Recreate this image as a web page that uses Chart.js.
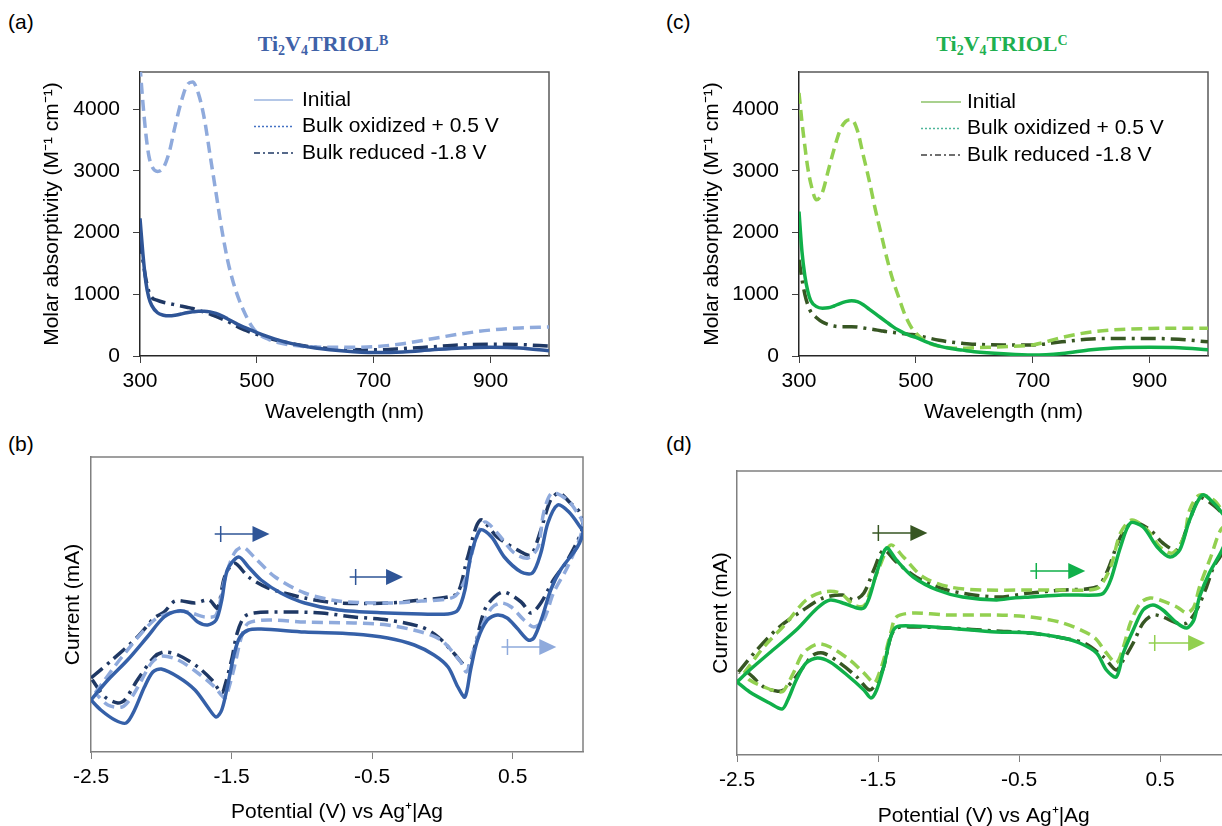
<!DOCTYPE html>
<html>
<head>
<meta charset="utf-8">
<script src="https://cdn.jsdelivr.net/npm/chart.js@4.4.1/dist/chart.umd.min.js"></script>
<style>
  body { margin: 0; width: 1222px; height: 826px; overflow: hidden; position: relative; background: #fff; font-family: "Liberation Sans", Arial, sans-serif; }
  canvas { position: absolute; }
  .letter { position: absolute; font-size: 21px; line-height: 1; color: #000; }
  .ttl { position: absolute; font-family: "Liberation Serif", "Times New Roman", serif; font-weight: bold; font-size: 22px; line-height: 1; white-space: nowrap; transform: translate(-50%, -50%); }
  .ttl sub { font-size: 14px; vertical-align: -4px; line-height: 0; }
  .ttl sup { font-size: 14px; vertical-align: 6px; line-height: 0; }
</style>
</head>
<body>
<div class="letter" style="left:8px;top:11px">(a)</div>
<div class="letter" style="left:8px;top:433px">(b)</div>
<div class="letter" style="left:666px;top:11px">(c)</div>
<div class="letter" style="left:666px;top:433px">(d)</div>
<div class="ttl" style="left:323px;top:44px;color:#3f62a8">Ti<sub>2</sub>V<sub>4</sub>TRIOL<sup>B</sup></div>
<div class="ttl" style="left:1002px;top:44px;color:#1fb050">Ti<sub>2</sub>V<sub>4</sub>TRIOL<sup>C</sup></div>

<canvas id="chartA" width="610" height="426" style="left:0;top:0"></canvas>
<canvas id="chartC" width="582" height="426" style="left:640px;top:0"></canvas>
<canvas id="chartB" width="610" height="400" style="left:0;top:426px"></canvas>
<canvas id="chartD" width="600" height="400" style="left:640px;top:426px"></canvas>

<script>
const fontFam = '"Liberation Sans", Arial, sans-serif';
Chart.defaults.font.family = fontFam;
Chart.defaults.font.size = 21;
Chart.defaults.color = "#000";

const seriesNames = ["Initial", "Bulk oxidized + 0.5 V", "Bulk reduced -1.8 V"];

// UV-vis spectra, wavelength grid (nm)
const wavelengths = [300, 305, 310, 315, 320, 330, 340, 350, 360, 370, 380, 390, 400, 410, 420, 430, 440, 450, 460, 470, 480, 490, 500, 520, 540, 560, 580, 600, 650, 700, 750, 800, 850, 900, 950, 1000];

const specB_initial = [2230, 1650, 1200, 950, 820, 700, 660, 650, 660, 680, 700, 715, 725, 725, 715, 690, 650, 600, 550, 500, 460, 420, 380, 310, 250, 200, 160, 130, 80, 55, 65, 100, 130, 140, 130, 85];
const specB_oxidized = [4700, 4100, 3600, 3250, 3080, 2990, 3050, 3300, 3720, 4100, 4380, 4440, 4250, 3850, 3250, 2650, 2050, 1550, 1180, 900, 680, 500, 380, 270, 210, 175, 155, 145, 140, 150, 200, 280, 360, 420, 455, 470];
const specB_reduced = [1900, 1550, 1250, 1050, 950, 900, 870, 850, 830, 810, 790, 770, 740, 710, 680, 640, 600, 560, 510, 460, 420, 380, 350, 290, 240, 200, 165, 140, 110, 100, 120, 150, 180, 190, 185, 160];

const specC_initial = [2340, 1700, 1300, 1050, 900, 800, 775, 780, 810, 850, 880, 895, 880, 830, 760, 690, 620, 550, 480, 420, 370, 330, 300, 220, 160, 120, 95, 70, 35, 15, 40, 100, 135, 140, 135, 100];
const specC_oxidized = [4260, 3800, 3400, 3050, 2800, 2530, 2650, 3000, 3350, 3650, 3800, 3830, 3650, 3250, 2850, 2400, 2000, 1600, 1250, 970, 700, 500, 370, 220, 160, 130, 125, 135, 150, 180, 300, 390, 430, 445, 450, 450];
const specC_reduced = [1560, 1250, 1000, 830, 720, 620, 550, 510, 485, 475, 475, 475, 470, 455, 440, 425, 410, 395, 385, 370, 360, 350, 340, 295, 255, 225, 205, 190, 180, 180, 230, 275, 285, 285, 270, 230];

const specTicksX = [300, 500, 700, 900];
const specTicksY = [0, 1000, 2000, 3000, 4000];

// cyclic voltammograms, [potential V, current a.u.]
const cvB_initial = [[-2.50,-0.98],[-2.38,-0.78],[-2.24,-0.58],[-2.10,-0.35],[-1.98,-0.15],[-1.88,-0.09],[-1.81,-0.11],[-1.74,-0.20],[-1.67,-0.23],[-1.61,-0.18],[-1.57,0.02],[-1.53,0.32],[-1.45,0.45],[-1.38,0.35],[-1.29,0.22],[-1.15,0.09],[-0.98,-0.01],[-0.74,-0.08],[-0.39,-0.11],[-0.15,-0.12],[0.04,-0.12],[0.11,-0.08],[0.16,0.12],[0.20,0.45],[0.27,0.72],[0.35,0.65],[0.44,0.45],[0.56,0.30],[0.64,0.29],[0.70,0.49],[0.75,0.79],[0.82,0.97],[0.90,0.90],[0.98,0.75],[1.00,0.70],
  [0.96,0.55],[0.84,0.32],[0.77,0.12],[0.71,-0.15],[0.65,-0.36],[0.61,-0.38],[0.53,-0.26],[0.46,-0.16],[0.39,-0.13],[0.32,-0.18],[0.25,-0.38],[0.20,-0.68],[0.16,-0.95],[0.11,-0.85],[0.04,-0.65],[-0.06,-0.53],[-0.20,-0.43],[-0.39,-0.36],[-0.63,-0.32],[-0.98,-0.30],[-1.29,-0.27],[-1.38,-0.28],[-1.44,-0.35],[-1.48,-0.51],[-1.53,-0.85],[-1.57,-1.08],[-1.61,-1.15],[-1.67,-1.05],[-1.76,-0.88],[-1.88,-0.75],[-2.00,-0.67],[-2.06,-0.70],[-2.12,-0.85],[-2.19,-1.08],[-2.25,-1.21],[-2.33,-1.18],[-2.43,-1.08],[-2.50,-0.98]];
const cvB_oxidized = [[-2.47,-0.91],[-2.28,-0.55],[-2.05,-0.18],[-1.91,-0.10],[-1.81,-0.10],[-1.69,-0.15],[-1.61,-0.13],[-1.55,0.22],[-1.48,0.49],[-1.42,0.55],[-1.34,0.45],[-1.19,0.25],[-0.98,0.09],[-0.74,0.01],[-0.39,-0.01],[-0.15,0.01],[0.08,0.05],[0.16,0.22],[0.23,0.59],[0.30,0.80],[0.39,0.69],[0.51,0.49],[0.61,0.44],[0.68,0.55],[0.72,0.89],[0.78,1.09],[0.89,1.02],[0.96,0.89],[1.00,0.79],
  [0.98,0.65],[0.89,0.35],[0.79,0.09],[0.72,-0.18],[0.65,-0.25],[0.58,-0.18],[0.49,-0.05],[0.42,-0.01],[0.35,-0.06],[0.27,-0.28],[0.20,-0.58],[0.17,-0.70],[0.13,-0.60],[-0.01,-0.38],[-0.15,-0.30],[-0.39,-0.23],[-0.63,-0.21],[-0.98,-0.20],[-1.22,-0.18],[-1.38,-0.21],[-1.43,-0.35],[-1.48,-0.65],[-1.53,-0.91],[-1.55,-0.96],[-1.62,-0.85],[-1.74,-0.71],[-1.88,-0.58],[-2.00,-0.54],[-2.07,-0.61],[-2.14,-0.78],[-2.21,-0.95],[-2.28,-1.05],[-2.38,-1.03],[-2.47,-0.91]];
const cvB_reduced = [[-2.50,-0.76],[-2.35,-0.58],[-2.17,-0.35],[-2.05,-0.16],[-1.98,-0.10],[-1.90,0.01],[-1.76,-0.01],[-1.66,0.02],[-1.60,-0.06],[-1.55,0.25],[-1.48,0.39],[-1.38,0.25],[-1.24,0.14],[-0.98,0.04],[-0.74,-0.01],[-0.39,-0.01],[-0.15,0.02],[0.04,0.05],[0.11,0.09],[0.18,0.45],[0.27,0.82],[0.39,0.65],[0.56,0.50],[0.63,0.47],[0.70,0.72],[0.77,1.02],[0.83,1.09],[0.91,0.99],[0.98,0.89],
  [1.00,0.75],[0.89,0.42],[0.79,0.22],[0.70,-0.01],[0.63,-0.11],[0.56,0.00],[0.44,0.10],[0.37,0.05],[0.30,-0.08],[0.23,-0.45],[0.18,-0.65],[0.08,-0.51],[-0.03,-0.35],[-0.15,-0.25],[-0.39,-0.18],[-0.63,-0.15],[-0.86,-0.11],[-1.10,-0.10],[-1.34,-0.11],[-1.41,-0.15],[-1.46,-0.31],[-1.50,-0.58],[-1.55,-0.85],[-1.57,-0.91],[-1.64,-0.78],[-1.74,-0.65],[-1.88,-0.53],[-1.98,-0.50],[-2.05,-0.55],[-2.17,-0.78],[-2.26,-0.98],[-2.31,-1.01],[-2.40,-0.95],[-2.50,-0.76]];

const cvD_initial = [[-2.50,-0.77],[-2.41,-0.65],[-2.27,-0.48],[-2.08,-0.25],[-1.93,-0.03],[-1.84,0.05],[-1.75,0.02],[-1.65,-0.03],[-1.60,-0.03],[-1.56,0.08],[-1.51,0.32],[-1.44,0.57],[-1.37,0.45],[-1.25,0.28],[-1.08,0.15],[-0.90,0.08],[-0.66,0.05],[-0.54,0.07],[-0.42,0.08],[-0.19,0.10],[0.05,0.10],[0.10,0.12],[0.15,0.25],[0.22,0.58],[0.29,0.82],[0.38,0.78],[0.48,0.58],[0.57,0.48],[0.64,0.55],[0.71,0.85],[0.80,1.10],[0.88,1.02],[0.94,0.92],[1.00,0.78],
  [0.94,0.55],[0.85,0.32],[0.78,0.08],[0.74,-0.15],[0.69,-0.23],[0.62,-0.18],[0.52,-0.05],[0.45,0.00],[0.38,-0.05],[0.31,-0.25],[0.24,-0.48],[0.19,-0.72],[0.12,-0.65],[0.05,-0.48],[-0.07,-0.38],[-0.19,-0.33],[-0.42,-0.28],[-0.66,-0.27],[-1.01,-0.23],[-1.25,-0.21],[-1.37,-0.22],[-1.41,-0.32],[-1.46,-0.62],[-1.51,-0.85],[-1.55,-0.93],[-1.60,-0.85],[-1.72,-0.70],[-1.84,-0.57],[-1.93,-0.53],[-2.01,-0.58],[-2.08,-0.75],[-2.14,-0.95],[-2.18,-1.04],[-2.27,-0.98],[-2.41,-0.87],[-2.50,-0.77]];
const cvD_oxidized = [[-2.45,-0.68],[-2.31,-0.42],[-2.15,-0.18],[-2.01,0.05],[-1.89,0.13],[-1.77,0.12],[-1.67,0.00],[-1.60,-0.01],[-1.56,0.12],[-1.49,0.38],[-1.41,0.60],[-1.32,0.48],[-1.18,0.28],[-0.99,0.18],[-0.75,0.15],[-0.42,0.15],[-0.19,0.15],[0.00,0.15],[0.07,0.18],[0.15,0.38],[0.22,0.72],[0.30,0.85],[0.41,0.75],[0.50,0.58],[0.59,0.52],[0.67,0.68],[0.71,0.95],[0.78,1.10],[0.88,1.05],[0.94,0.95],[1.00,0.85],
  [0.93,0.75],[0.86,0.48],[0.78,0.18],[0.74,-0.02],[0.69,-0.08],[0.62,-0.02],[0.50,0.05],[0.43,0.07],[0.36,0.02],[0.29,-0.18],[0.24,-0.42],[0.19,-0.58],[0.12,-0.48],[0.03,-0.32],[-0.19,-0.18],[-0.42,-0.12],[-0.66,-0.10],[-1.01,-0.10],[-1.25,-0.08],[-1.37,-0.12],[-1.41,-0.28],[-1.46,-0.55],[-1.51,-0.75],[-1.53,-0.78],[-1.60,-0.68],[-1.70,-0.55],[-1.84,-0.42],[-1.93,-0.39],[-2.03,-0.48],[-2.10,-0.68],[-2.17,-0.86],[-2.20,-0.87],[-2.29,-0.83],[-2.41,-0.75],[-2.45,-0.68]];
const cvD_reduced = [[-2.49,-0.67],[-2.36,-0.45],[-2.20,-0.22],[-2.03,-0.05],[-1.89,0.07],[-1.75,0.10],[-1.67,0.05],[-1.60,0.12],[-1.53,0.35],[-1.46,0.55],[-1.37,0.43],[-1.23,0.28],[-1.01,0.15],[-0.66,0.08],[-0.42,0.12],[-0.19,0.15],[0.05,0.18],[0.12,0.32],[0.22,0.68],[0.31,0.83],[0.43,0.75],[0.52,0.62],[0.62,0.55],[0.71,0.85],[0.78,1.07],[0.85,1.03],[0.94,0.92],[1.00,0.82],
  [0.94,0.52],[0.88,0.38],[0.83,0.18],[0.76,-0.05],[0.69,-0.18],[0.62,-0.18],[0.52,-0.12],[0.45,-0.10],[0.38,-0.18],[0.31,-0.38],[0.24,-0.55],[0.19,-0.65],[0.10,-0.52],[-0.04,-0.38],[-0.19,-0.33],[-0.42,-0.28],[-0.66,-0.26],[-1.01,-0.23],[-1.25,-0.22],[-1.37,-0.23],[-1.41,-0.32],[-1.46,-0.62],[-1.51,-0.78],[-1.56,-0.85],[-1.65,-0.72],[-1.77,-0.58],[-1.89,-0.48],[-1.96,-0.50],[-2.03,-0.62],[-2.10,-0.75],[-2.17,-0.85],[-2.22,-0.86],[-2.31,-0.82],[-2.43,-0.67],[-2.49,-0.67]];

const cvTicksX = [-2.5, -1.5, -0.5, 0.5];

// sweep direction markers (from V, to V, at current)
const arrowsB = [
  { from: -1.62, to: -1.23, at: 0.68, color: "#2f5597" },
  { from: -0.66, to: -0.28, at: 0.25, color: "#2f5597" },
  { from: 0.42, to: 0.81, at: -0.45, color: "#8faadc" },
];
const arrowsD = [
  { from: -1.54, to: -1.15, at: 0.72, color: "#375623" },
  { from: -0.42, to: -0.03, at: 0.34, color: "#10b04a" },
  { from: 0.42, to: 0.82, at: -0.38, color: "#92d050" },
];

const dashOx = [11, 6];
const dashRed = [15, 6, 3, 6];

const framePlugin = {
  id: "frame",
  beforeDatasetsDraw(chart, args, o) {
    const { ctx, chartArea: a } = chart;
    ctx.save();
    ctx.strokeStyle = o.color;
    ctx.lineWidth = 1.5;
    ctx.beginPath();
    ctx.moveTo(a.left, a.top);
    ctx.lineTo(a.right, a.top);
    ctx.lineTo(a.right, a.bottom);
    ctx.stroke();
    ctx.restore();
  },
};

const legendPlugin = {
  id: "specLegend",
  afterDraw(chart, args, o) {
    if (!o.items) return;
    const { ctx, chartArea: a } = chart;
    ctx.save();
    o.items.forEach((it, i) => {
      const y = a.top + o.top + i * o.gap;
      ctx.beginPath();
      ctx.setLineDash(it.dash);
      ctx.strokeStyle = it.color;
      ctx.lineWidth = it.width;
      ctx.moveTo(a.left + o.x0, y);
      ctx.lineTo(a.left + o.x1, y);
      ctx.stroke();
      ctx.setLineDash([]);
      ctx.fillStyle = "#000";
      ctx.font = "21px " + fontFam;
      ctx.textBaseline = "middle";
      ctx.fillText(chart.data.datasets[i].label, a.left + o.tx, y);
    });
    ctx.restore();
  },
};

const arrowPlugin = {
  id: "sweepArrows",
  afterDatasetsDraw(chart, args, o) {
    if (!o.list) return;
    const { ctx, scales } = chart;
    o.list.forEach((ar) => {
      const x0 = scales.x.getPixelForValue(ar.from);
      const x1 = scales.x.getPixelForValue(ar.to);
      const y = scales.y.getPixelForValue(ar.at);
      ctx.save();
      ctx.strokeStyle = ar.color;
      ctx.fillStyle = ar.color;
      ctx.lineWidth = 1.5;
      ctx.beginPath();
      ctx.moveTo(x0, y);
      ctx.lineTo(x1 - 15, y);
      ctx.moveTo(x0 + 6, y - 8);
      ctx.lineTo(x0 + 6, y + 8);
      ctx.stroke();
      ctx.beginPath();
      ctx.moveTo(x1 - 17, y - 8);
      ctx.lineTo(x1, y);
      ctx.lineTo(x1 - 17, y + 8);
      ctx.closePath();
      ctx.fill();
      ctx.restore();
    });
  },
};

function line(label, points, color, dash, extra) {
  return Object.assign({
    label: label,
    data: points,
    showLine: true,
    borderColor: color,
    borderWidth: 3.5,
    borderDash: dash,
    pointRadius: 0,
    fill: false,
  }, extra);
}

function specPoints(values) {
  return wavelengths.map((w, i) => ({ x: w, y: values[i] }));
}

function cvPoints(pairs) {
  return pairs.map(([v, c]) => ({ x: v, y: c }));
}

function spectrumChart(id, sets, cfg) {
  const colors = cfg.colors;
  const smooth = { cubicInterpolationMode: "monotone" };
  return new Chart(id, {
    type: "scatter",
    data: {
      datasets: [
        line(seriesNames[0], specPoints(sets[0]), colors[0], [], smooth),
        line(seriesNames[1], specPoints(sets[1]), colors[1], dashOx, smooth),
        line(seriesNames[2], specPoints(sets[2]), colors[2], dashRed, smooth),
      ],
    },
    options: {
      responsive: false,
      animation: false,
      layout: { padding: { left: 0, top: 72, right: cfg.padRight, bottom: 0 } },
      plugins: {
        legend: { display: false },
        tooltip: { enabled: false },
        frame: { color: "#595959" },
        specLegend: cfg.legend,
      },
      scales: {
        x: {
          type: "linear",
          min: 300,
          max: 1000,
          afterBuildTicks: (s) => { s.ticks = specTicksX.map((v) => ({ value: v })); },
          afterFit: (s) => { s.height = 70; },
          grid: { drawOnChartArea: false, drawTicks: true, tickLength: 7, color: "#404040" },
          border: { display: true, color: "#262626", width: 1.5 },
          ticks: { padding: 6, autoSkip: false, maxRotation: 0, callback: (v) => String(v) },
          title: { display: true, text: "Wavelength (nm)", padding: { top: 0, bottom: 1 } },
        },
        y: {
          type: "linear",
          min: 0,
          max: 4600,
          afterBuildTicks: (s) => { s.ticks = specTicksY.map((v) => ({ value: v })); },
          afterFit: (s) => { s.width = cfg.axisWidth; },
          grid: { drawOnChartArea: false, drawTicks: true, tickLength: 7, color: "#404040" },
          border: { display: true, color: "#262626", width: 1.5 },
          ticks: { padding: 13, callback: (v) => String(v) },
          title: { display: true, text: "Molar absorptivity (M\u207B\u00B9 cm\u207B\u00B9)", padding: { top: cfg.titlePad, bottom: 0 } },
        },
      },
    },
    plugins: [framePlugin, legendPlugin],
  });
}

function cvChart(id, sets, cfg) {
  const colors = cfg.colors;
  const curve = { tension: 0.3 };
  return new Chart(id, {
    type: "scatter",
    data: {
      datasets: [
        line(seriesNames[0], cvPoints(sets[0]), colors[0], [], curve),
        line(seriesNames[1], cvPoints(sets[1]), colors[1], dashOx, curve),
        line(seriesNames[2], cvPoints(sets[2]), colors[2], dashRed, curve),
      ],
    },
    options: {
      responsive: false,
      animation: false,
      layout: { padding: { left: 0, top: cfg.padTop, right: cfg.padRight, bottom: 0 } },
      plugins: {
        legend: { display: false },
        tooltip: { enabled: false },
        frame: { color: "#808080" },
        sweepArrows: { list: cfg.arrows },
      },
      scales: {
        x: {
          type: "linear",
          min: -2.5,
          max: 1.0,
          afterBuildTicks: (s) => { s.ticks = cvTicksX.map((v) => ({ value: v })); },
          afterFit: (s) => { s.height = cfg.axisHeight; },
          grid: { drawOnChartArea: false, drawTicks: true, tickLength: 7, color: "#808080" },
          border: { display: true, color: "#808080", width: 1.5 },
          ticks: { padding: 6, autoSkip: false, maxRotation: 0, callback: (v) => String(v) },
          title: { display: true, text: "Potential (V) vs Ag\u207A|Ag", padding: { top: 0, bottom: cfg.xTitlePad } },
        },
        y: {
          type: "linear",
          min: -1.5,
          max: cfg.yMax,
          afterFit: (s) => { s.width = cfg.axisWidth; },
          grid: { display: false },
          border: { display: true, color: "#808080", width: 1.5 },
          ticks: { display: false },
          title: { display: true, text: "Current (mA)", padding: { top: cfg.titlePad, bottom: 0 } },
        },
      },
    },
    plugins: [framePlugin, arrowPlugin],
  });
}

spectrumChart("chartA", [specB_initial, specB_oxidized, specB_reduced], {
  colors: ["#2f5597", "#8faadc", "#1f3864"],
  padRight: 61,
  axisWidth: 140,
  titlePad: 40,
  legend: {
    x0: 114, x1: 153, tx: 162, top: 28, gap: 26.5,
    items: [
      { color: "#b4c7e7", width: 2, dash: [] },
      { color: "#4472c4", width: 1.5, dash: [2, 2] },
      { color: "#1f3864", width: 1.5, dash: [6, 3, 2, 3] },
    ],
  },
});

spectrumChart("chartC", [specC_initial, specC_oxidized, specC_reduced], {
  colors: ["#10b04a", "#92d050", "#375623"],
  padRight: 14,
  axisWidth: 159,
  titlePad: 60,
  legend: {
    x0: 122, x1: 162, tx: 168, top: 30, gap: 26.5,
    items: [
      { color: "#a9d18e", width: 2, dash: [] },
      { color: "#4fb69a", width: 1.5, dash: [2, 2] },
      { color: "#404040", width: 1.5, dash: [6, 3, 2, 3] },
    ],
  },
});

cvChart("chartB", [cvB_initial, cvB_oxidized, cvB_reduced], {
  colors: ["#3560a8", "#8faadc", "#1f3864"],
  padTop: 31,
  padRight: 27,
  axisWidth: 91,
  axisHeight: 74,
  yMax: 1.45,
  titlePad: 61,
  xTitlePad: 1,
  arrows: arrowsB,
});

cvChart("chartD", [cvD_initial, cvD_oxidized, cvD_reduced], {
  colors: ["#10b04a", "#92d050", "#375623"],
  padTop: 45,
  padRight: 9.5,
  axisWidth: 97,
  axisHeight: 71,
  yMax: 1.34,
  titlePad: 69,
  xTitlePad: -3,
  arrows: arrowsD,
});
</script>
</body>
</html>
